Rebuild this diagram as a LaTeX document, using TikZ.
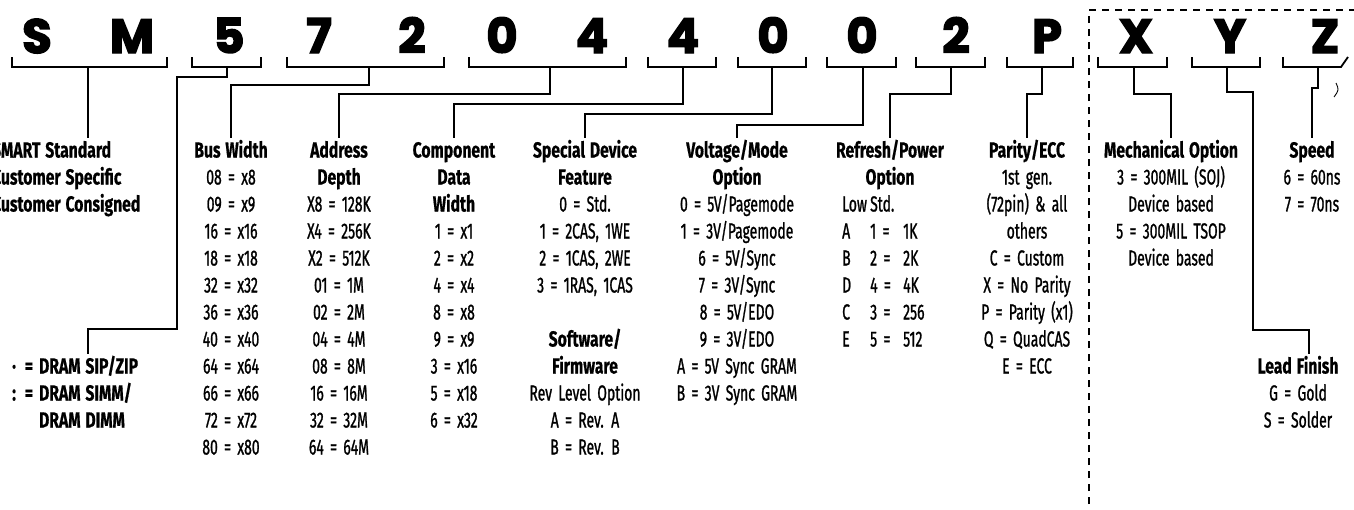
\documentclass[tikz,border=0pt]{standalone}
\usepackage{fontspec}
\setmainfont{Fira Sans}[
  UprightFeatures={FakeStretch=0.64, WordSpace=1.7, FakeBold=1.0},
  BoldFeatures={FakeStretch=0.72, WordSpace=1.3, FakeBold=0.6}]
\newfontfamily\bigf{Poppins}[BoldFeatures={FakeBold=3}]
\newcommand\ctab[1]{\begin{tabular}[t]{@{}c@{}}#1\end{tabular}}
\newcommand\ltab[1]{\begin{tabular}[t]{@{}l@{}}#1\end{tabular}}
\begin{document}
\begin{tikzpicture}[x=1pt,y=-1pt,
  txt/.style={inner sep=0pt, font=\fontsize{21.8}{27}\selectfont, anchor=base},
  btxt/.style={txt, font=\fontsize{21.8}{27}\selectfont\bfseries},
  big/.style={inner sep=0pt, font=\bigf\bfseries\fontsize{48}{50}\selectfont, anchor=base},
  wire/.style={line width=1.8pt, line join=miter},
  brk/.style={line width=1.8pt, line join=miter},
  grp/.style={line width=1.3pt, dash pattern=on 7pt off 6pt}]
\fill[white] (0,0) rectangle (1354,509);
\useasboundingbox (0,0) rectangle (1354,509);
\clip (0,0) rectangle (1354,509);

% part-number characters
\foreach \c/\x [count=\i] in {S/37, M/132, 5/229, 7/319, 2/412, 0/502, 4/592, 4/683, 0/773, 0/862, 2/956, P/1047, X/1136, Y/1230, Z/1325}
  \node[big] (L\i) at (\x,53) {\c};

% brackets
\foreach \xl/\xr/\xs [count=\i] in {12/167/88, 192/261/227, 287/444/369, 469/626/550, 648/716/683, 738/806/772, 827/896/863, 916/985/951, 1007/1073/1042, 1098/1167/1134, 1192/1260/1227}
{
  \draw[brk] (\xl,57) -- (\xl,67) -- (\xr,67) -- (\xr,57);
  \coordinate (b\i) at (\xs,67);
}
\draw[brk] (1283,57) -- (1283,67) -- (1341,67) -- (1348,57);
\coordinate (b12) at (1318,67);
\draw[line width=0.9pt] (1336,83) .. controls (1339,90) .. (1334,97);

% dashed group frame
\draw[grp] (1089,530) -- (1089,10) -- (1370,10);

% columns
\node[btxt, anchor=base west] (smart) at (-8,157.5) {\ltab{SMART Standard\\ Customer Specific\\ Customer Consigned}};
\node[btxt, anchor=base west] (dram) at (12,373.5) {\begin{tabular}[t]{@{}r@{\hspace{6pt}}l@{}}\textperiodcentered\hspace{9pt}= & DRAM SIP/ZIP\\ :\hspace{9pt}= & DRAM SIMM/\\ & DRAM DIMM\end{tabular}};
\node[txt] (bw) at (231,157.5) {\ctab{\textbf{Bus Width}\\ 08 = x8\\ 09 = x9\\ 16 = x16\\ 18 = x18\\ 32 = x32\\ 36 = x36\\ 40 = x40\\ 64 = x64\\ 66 = x66\\ 72 = x72\\ 80 = x80}};
\node[txt] (ad) at (339,157.5) {\ctab{\textbf{Address}\\ \textbf{Depth}\\ X8 = 128K\\ X4 = 256K\\ X2 = 512K\\ 01 = 1M\\ 02 = 2M\\ 04 = 4M\\ 08 = 8M\\ 16 = 16M\\ 32 = 32M\\ 64 = 64M}};
\node[txt] (cdw) at (454,157.5) {\ctab{\textbf{Component}\\ \textbf{Data}\\ \textbf{Width}\\ 1 = x1\\ 2 = x2\\ 4 = x4\\ 8 = x8\\ 9 = x9\\ 3 = x16\\ 5 = x18\\ 6 = x32}};
\node[txt] (sdf) at (585,157.5) {\ctab{\textbf{Special Device}\\ \textbf{Feature}\\ 0 = Std.\\ 1 = 2CAS, 1WE\\ 2 = 1CAS, 2WE\\ 3 = 1RAS, 1CAS\\ \\ \textbf{Software/}\\ \textbf{Firmware}\\ Rev Level Option\\ A = Rev. A\\ B = Rev. B}};
\node[txt] (vm) at (737,157.5) {\ctab{\textbf{Voltage/Mode}\\ \textbf{Option}\\ 0 = 5V/Pagemode\\ 1 = 3V/Pagemode\\ 6 = 5V/Sync\\ 7 = 3V/Sync\\ 8 = 5V/EDO\\ 9 = 3V/EDO\\ A = 5V Sync GRAM\\ B = 3V Sync GRAM}};
\node[txt] (rp) at (890,157.5) {\ctab{\textbf{Refresh/Power}\\ \textbf{Option}}};
\node[txt, anchor=base west] (rpt) at (842,211.5) {\begin{tabular}[t]{@{}p{28pt}@{}p{33pt}@{}l@{}}Low & Std. & \\ A & 1 = & 1K\\ B & 2 = & 2K\\ D & 4 = & 4K\\ C & 3 = & 256\\ E & 5 = & 512\end{tabular}};
\node[txt] (pe) at (1027,157.5) {\ctab{\textbf{Parity/ECC}\\ 1st gen.\\ (72pin) \& all\\ others\\ C = Custom\\ X = No Parity\\ P = Parity (x1)\\ Q = QuadCAS\\ E = ECC}};
\node[txt] (mo) at (1171,157.5) {\ctab{\textbf{Mechanical Option}\\ 3 = 300MIL (SOJ)\\ Device based\\ 5 = 300MIL TSOP\\ Device based}};
\node[txt] (sp) at (1312,157.5) {\ctab{\textbf{Speed}\\ 6 = 60ns\\ 7 = 70ns}};
\node[txt] (lf) at (1298,373.5) {\ctab{\textbf{Lead Finish}\\ G = Gold\\ S = Solder}};

% jog levels
\foreach \h in {77,85,88,92,94,104,114,125,329,330}
  \coordinate (h\h) at (0,\h);
\coordinate (v177) at (177,0);
\coordinate (v88) at (88,0);
\coordinate (v1253) at (1253,0);
\coordinate (v1309) at (1309,0);

% connectors
\draw[wire] (b1) -- (b1 |- smart.north);
\draw[wire] (b2) -- (b2 |- h77) -- (v177 |- h77) -- (v177 |- h329) -- (v88 |- h329) -- (v88 |- dram.north);
\draw[wire] (b3) -- (b3 |- h85) -| (bw.north);
\draw[wire] (b4) -- (b4 |- h94) -| (ad.north);
\draw[wire] (b5) -- (b5 |- h104) -| (cdw.north);
\draw[wire] (b6) -- (b6 |- h114) -| (sdf.north);
\draw[wire] (b7) -- (b7 |- h125) -| (vm.north);
\draw[wire] (b8) -- (b8 |- h94) -| (rp.north);
\draw[wire] (b9) -- (b9 |- h94) -| (pe.north);
\draw[wire] (b10) -- (b10 |- h94) -| (mo.north);
\draw[wire] (b11) -- (b11 |- h92) -- (v1253 |- h92) -- (v1253 |- h330) -- (v1309 |- h330) -- (v1309 |- lf.north);
\draw[wire] (b12) -- (b12 |- h88) -| (sp.north);
\end{tikzpicture}
\end{document}
